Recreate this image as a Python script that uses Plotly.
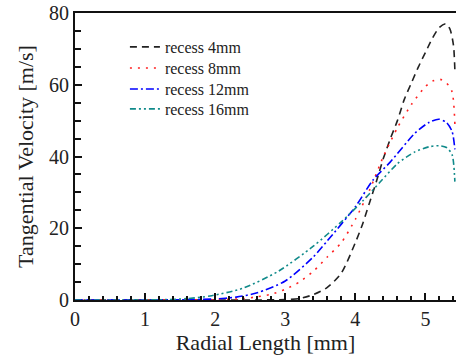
import plotly.graph_objects as go

# recess 4mm
x_4mm = [0, 0.5, 1.0, 1.5, 2.0, 2.5, 3.0, 3.2, 3.4, 3.6, 3.8, 4.0, 4.1, 4.2, 4.3, 4.4, 4.5, 4.6, 4.7, 4.8, 4.9, 5.0, 5.1, 5.2, 5.29, 5.35, 5.40, 5.42]
v_4mm = [0, 0, 0, 0, 0, 0, 0.1, 0.4, 1.5, 3.5, 7.5, 16, 21, 27, 33, 39.5, 45, 50, 56, 60.5, 65, 69, 73, 76, 77, 75.5, 71, 64]
# recess 8mm
x_8mm = [0, 0.5, 1.0, 1.5, 2.0, 2.4, 2.6, 2.8, 3.0, 3.2, 3.4, 3.6, 3.8, 4.0, 4.2, 4.4, 4.6, 4.8, 5.0, 5.1, 5.21, 5.3, 5.38, 5.42]
v_8mm = [0, 0, 0, 0, 0.1, 0.4, 0.9, 1.6, 3, 5, 8, 12, 16, 22.5, 30.5, 40, 48, 54.5, 59.5, 61, 61.5, 60.5, 58, 49]
# recess 12mm
x_12mm = [0, 1.0, 1.6, 2.0, 2.3, 2.6, 3.0, 3.4, 3.6, 4.0, 4.25, 4.5, 4.85, 5.05, 5.19, 5.3, 5.38, 5.42]
v_12mm = [0, 0, 0.1, 0.3, 0.8, 2, 5.3, 12, 16.5, 26, 33.4, 38.5, 46.5, 49.5, 50.4, 49.5, 47, 42]
# recess 16mm
x_16mm = [0, 1.0, 1.3, 1.6, 1.95, 2.4, 2.9, 3.4, 3.8, 4.1, 4.35, 4.6, 4.85, 5.05, 5.19, 5.3, 5.38, 5.42]
v_16mm = [0, 0, 0.1, 0.4, 1.2, 3.3, 8, 15, 21.8, 27.5, 32.8, 38, 41.3, 42.7, 43, 42.5, 40.5, 33]

names = ["recess 4mm", "recess 8mm", "recess 12mm", "recess 16mm"]
xs = [x_4mm, x_8mm, x_12mm, x_16mm]
vs = [v_4mm, v_8mm, v_12mm, v_16mm]
colors = ["#222222", "#ff2020", "#0000ff", "#108a8a"]
dashes = ["7px,5px", "2px,6px", "8px,3px,2px,3px", "6px,3px,2px,3px,2px,3px"]
legend_ids = ["legend", "legend2", "legend3", "legend4"]
legend_y = [0.8815, 0.808, 0.735, 0.6655]

serif = "Liberation Serif, Times New Roman, serif"

fig = go.Figure()
for n, x, v, c, d, lg in zip(names, xs, vs, colors, dashes, legend_ids):
    fig.add_trace(go.Scatter(x=x, y=v, mode="lines", name=n, legend=lg,
                             line=dict(color=c, width=1.6, dash=d, shape="spline", smoothing=0.7)))

legend_common = dict(x=0.131, xanchor="left", yanchor="middle",
                     font=dict(family=serif, size=16, color="#222222"),
                     bgcolor="rgba(0,0,0,0)", borderwidth=0)
layout_legends = {}
for lg, ly in zip(legend_ids, legend_y):
    layout_legends[lg] = dict(y=ly, **legend_common)

fig.update_layout(
    width=456, height=355,
    margin=dict(l=75, r=0, t=13, b=55, autoexpand=False),
    paper_bgcolor="white", plot_bgcolor="white",
    font=dict(family=serif, color="#222222"),
    showlegend=True,
    **layout_legends,
)
fig.update_xaxes(
    range=[0, 5.436], showgrid=False, zeroline=False, automargin=False,
    showline=True, linecolor="#111111", linewidth=2, mirror=True,
    ticks="inside", ticklen=7, tickwidth=1.5, tickcolor="#111111",
    tick0=0, dtick=1, tickfont=dict(family=serif, size=20, color="#222222"),
    minor=dict(ticks="inside", ticklen=4, tickwidth=1.5, tickcolor="#111111", dtick=0.2),
    title=dict(text="Radial Length [mm]", font=dict(family=serif, size=22, color="#222222"), standoff=2),
)
fig.update_yaxes(
    range=[0, 80], showgrid=False, zeroline=False, automargin=False,
    showline=True, linecolor="#111111", linewidth=2,
    ticks="inside", ticklen=7, tickwidth=1.5, tickcolor="#111111",
    tick0=0, dtick=20, tickfont=dict(family=serif, size=20, color="#222222"),
    minor=dict(ticks="inside", ticklen=6, tickwidth=1.5, tickcolor="#111111", dtick=5),
    title=dict(text="Tangential Velocity [m/s]", font=dict(family=serif, size=22, color="#222222"), standoff=9),
)
fig.write_html("out.html", config={"displayModeBar": False},
               post_script="document.body.style.margin='0';document.body.style.overflow='hidden';")
